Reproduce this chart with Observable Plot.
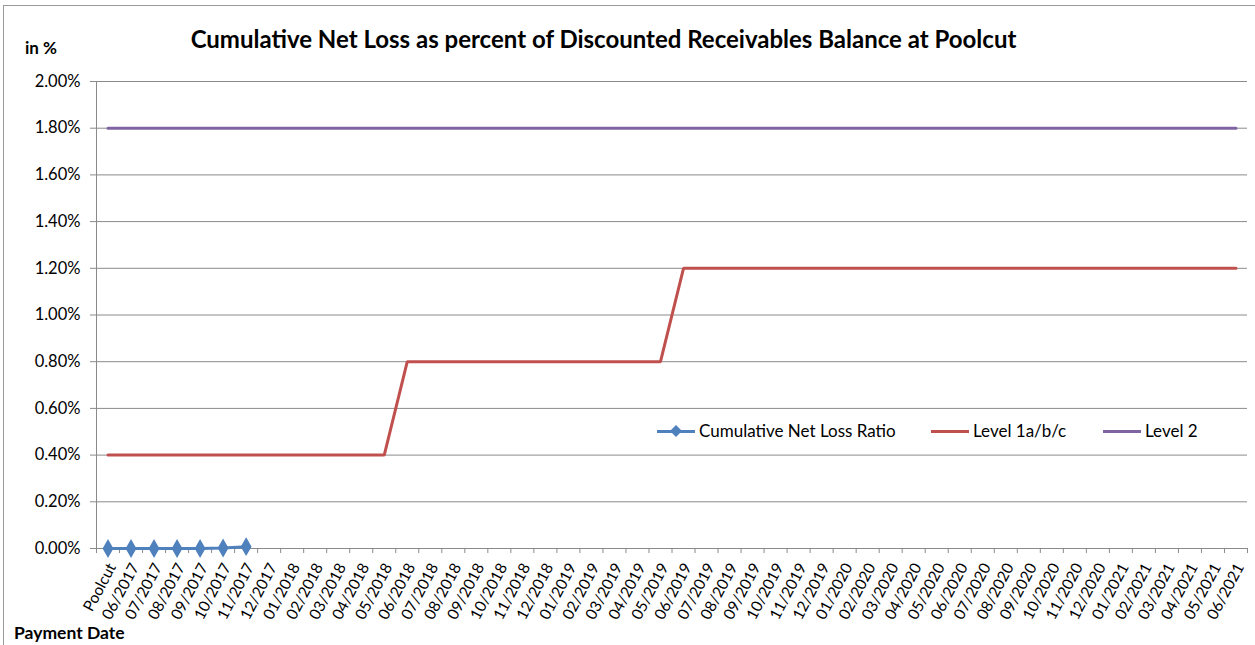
<!DOCTYPE html>
<html>
<head>
<meta charset="utf-8">
<script src="https://cdn.jsdelivr.net/npm/d3@7"></script>
<script src="https://cdn.jsdelivr.net/npm/@observablehq/plot@0.6"></script>
<style>
  body { margin: 0; background: #fff; font-family: Lato, "Open Sans", sans-serif; }
  #wrap { position: relative; width: 1255px; height: 645px; overflow: hidden; background: #fff; }
  #frame { position: absolute; left: 3px; top: 5px; width: 1300px; height: 700px; border-left: 1px solid #9a9a9a; border-top: 1px solid #9a9a9a; pointer-events: none; }
  #title { position: absolute; left: 0; width: 1207px; top: 24px; text-align: center; font-weight: bold; font-size: 24px; color: #000; }
  #unit { position: absolute; left: 25px; top: 37px; font-weight: bold; font-size: 17px; }
  #chart { position: absolute; left: 0; top: 62px; }
  #xlab { position: absolute; left: 14px; top: 622px; font-weight: bold; font-size: 17.5px; }
  #legend { position: absolute; top: 420px; left: 0; font-size: 17px; }
  .li { position: absolute; top: 0; white-space: nowrap; }
  .sw { position: absolute; top: 10px; height: 3px; width: 38px; }
  .lt { position: absolute; top: 0; }
</style>
</head>
<body>
<div id="wrap">
  <div id="frame"></div>
  <div id="title">Cumulative Net Loss as percent of Discounted Receivables Balance at Poolcut</div>
  <div id="unit">in %</div>
  <div id="chart"></div>
  <div id="xlab">Payment Date</div>
  <div id="legend"></div>
</div>
<script>
// ---- data ----
const categories = ["Poolcut","06/2017","07/2017","08/2017","09/2017","10/2017","11/2017","12/2017",
  "01/2018","02/2018","03/2018","04/2018","05/2018","06/2018","07/2018","08/2018","09/2018","10/2018","11/2018","12/2018",
  "01/2019","02/2019","03/2019","04/2019","05/2019","06/2019","07/2019","08/2019","09/2019","10/2019","11/2019","12/2019",
  "01/2020","02/2020","03/2020","04/2020","05/2020","06/2020","07/2020","08/2020","09/2020","10/2020","11/2020","12/2020",
  "01/2021","02/2021","03/2021","04/2021","05/2021","06/2021"];
// Cumulative Net Loss Ratio (in %), available Poolcut .. 11/2017
const cnlRatio = [0.000, 0.000, 0.000, 0.000, 0.000, 0.002, 0.008];
// Level 1a/b/c trigger (in %)
const level1 = [0.4,0.4,0.4,0.4,0.4,0.4,0.4,0.4,0.4,0.4,0.4,0.4,0.4,
  0.8,0.8,0.8,0.8,0.8,0.8,0.8,0.8,0.8,0.8,0.8,0.8,
  1.2,1.2,1.2,1.2,1.2,1.2,1.2,1.2,1.2,1.2,1.2,1.2,1.2,1.2,1.2,1.2,1.2,1.2,1.2,1.2,1.2,1.2,1.2,1.2,1.2];
// Level 2 trigger (in %)
const level2 = [1.8,1.8,1.8,1.8,1.8,1.8,1.8,1.8,1.8,1.8,1.8,1.8,1.8,1.8,1.8,1.8,1.8,1.8,1.8,1.8,1.8,1.8,1.8,1.8,1.8,
  1.8,1.8,1.8,1.8,1.8,1.8,1.8,1.8,1.8,1.8,1.8,1.8,1.8,1.8,1.8,1.8,1.8,1.8,1.8,1.8,1.8,1.8,1.8,1.8,1.8];
const yTicks = [0, 0.2, 0.4, 0.6, 0.8, 1.0, 1.2, 1.4, 1.6, 1.8, 2.0];

const colors = { cnl: "#4F81BD", l1: "#C0504D", l2: "#8064A2" };
const gridColor = "#8a8a8a";

const series = (vals) => vals.map((v, i) => ({ i, v }));
const idx = categories.map((c, i) => i);
const bounds = d3.range(categories.length + 1).map(k => k - 0.5);

const chart = Plot.plot({
  width: 1255,
  height: 562,
  marginLeft: 96,
  marginRight: 8,
  marginTop: 19,
  marginBottom: 76,
  x: { type: "linear", domain: [-0.5, categories.length - 0.5] },
  y: { domain: [0, 2] },
  style: { fontFamily: "Lato, 'Open Sans', sans-serif", fontSize: "16px", color: "#000", background: "transparent" },
  marks: [
    Plot.gridY(yTicks, { stroke: gridColor, strokeOpacity: 1 }),
    Plot.ruleX([-0.5], { stroke: gridColor, strokeOpacity: 1 }),
    Plot.axisY({ ticks: yTicks, tickFormat: d => d.toFixed(2) + "%", tickSize: 6, tickPadding: 10, stroke: gridColor, label: null, fontSize: 16.5 }),
    Plot.axisX({ ticks: bounds, tickFormat: () => "", tickSize: 5, stroke: gridColor, label: null }),
    Plot.axisX({ ticks: idx, tickFormat: i => categories[i], tickSize: 0, tickRotate: -62, tickPadding: 16, dx: 4, label: null, fontSize: 15.5 }),
    Plot.line(series(level2), { x: "i", y: "v", stroke: colors.l2, strokeWidth: 3 }),
    Plot.line(series(level1), { x: "i", y: "v", stroke: colors.l1, strokeWidth: 3, strokeLinejoin: "miter" }),
    Plot.line(series(cnlRatio), { x: "i", y: "v", stroke: colors.cnl, strokeWidth: 3 }),
    Plot.dot(series(cnlRatio), { x: "i", y: "v", symbol: "diamond", r: 4.8, fill: colors.cnl, stroke: colors.cnl })
  ]
});
document.getElementById("chart").appendChild(chart);

// legend
const legendItems = [
  { label: "Cumulative Net Loss Ratio", color: colors.cnl, x: 657, marker: true },
  { label: "Level 1a/b/c", color: colors.l1, x: 931, marker: false },
  { label: "Level 2", color: colors.l2, x: 1103, marker: false }
];
const lg = document.getElementById("legend");
for (const it of legendItems) {
  const d = document.createElement("div");
  d.className = "li";
  d.style.left = it.x + "px";
  let html = `<div class="sw" style="left:0;background:${it.color}"></div>`;
  if (it.marker) html += `<svg style="position:absolute;left:13px;top:5px" width="12" height="12"><path d="M6,0L12,6L6,12L0,6Z" fill="${it.color}"/></svg>`;
  html += `<div class="lt" style="left:42px">${it.label}</div>`;
  d.innerHTML = html;
  lg.appendChild(d);
}
</script>
</body>
</html>
